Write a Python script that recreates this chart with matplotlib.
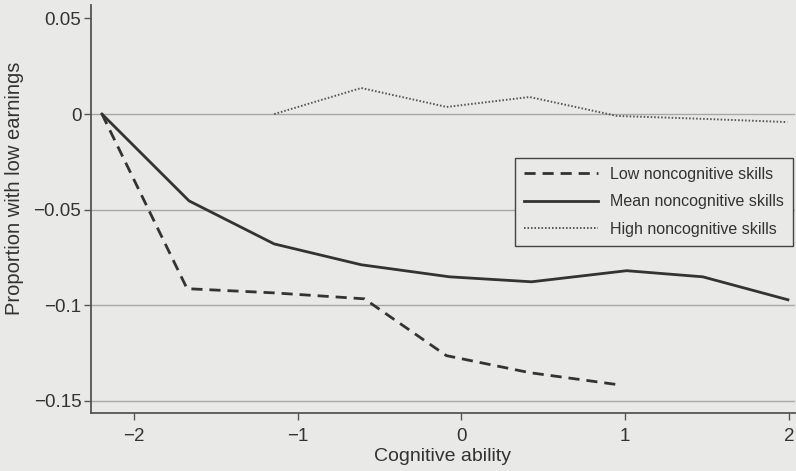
import numpy as np
import matplotlib.pyplot as plt

plt.rcParams['font.family'] = ['Liberation Sans', 'DejaVu Sans']

# Values
low_x = [-2.196, -1.676, -1.144, -0.593, -0.092, 0.416, 0.948]
low_y = [0.0, -0.0913, -0.0935, -0.0966, -0.1263, -0.1352, -0.1414]

mean_x = [-2.196, -1.664, -1.144, -0.612, -0.073, 0.428, 1.009, 1.474, 1.994]
mean_y = [0.0, -0.0454, -0.0679, -0.0788, -0.0851, -0.0877, -0.0819, -0.0851, -0.0971]

high_x = [-1.144, -0.612, -0.09, 0.416, 0.95, 1.47, 1.99]
high_y = [0.0, 0.0136, 0.0037, 0.0089, -0.001, -0.0025, -0.0042]

labels = ['Low noncognitive skills', 'Mean noncognitive skills', 'High noncognitive skills']
yticks = [0.05, 0, -0.05, -0.1, -0.15]
ytick_labels = ['0.05', '0', '\u22120.05', '\u22120.1', '\u22120.15']
xticks = [-2, -1, 0, 1, 2]
xtick_labels = ['\u22122', '\u22121', '0', '1', '2']

bg = '#e9e9e7'
ink = '#333333'

fig = plt.figure(figsize=(7.96, 4.71), dpi=100, facecolor=bg)
ax = fig.add_axes([0.1143, 0.1231, 0.8844, 0.8663], facecolor=bg)

# horizontal grid lines (no line at the top tick)
for yv in yticks[1:]:
    ax.axhline(yv, color='#a8a8a8', lw=1.0, zorder=1)

ax.plot(low_x, low_y, color=ink, lw=2.0, ls=(0, (4, 2.5)), label=labels[0], zorder=3)
ax.plot(mean_x, mean_y, color=ink, lw=2.0, ls='-', label=labels[1], zorder=3)
ax.plot(high_x, high_y, color='#555555', lw=1.4, ls=(0, (0.8, 1.0)), label=labels[2], zorder=3)

ax.set_xlim(-2.263, 2.037)
ax.set_ylim(-0.1563, 0.057)
ax.set_xticks(xticks)
ax.set_xticklabels(xtick_labels)
ax.set_yticks(yticks)
ax.set_yticklabels(ytick_labels)

for s in ['top', 'right']:
    ax.spines[s].set_visible(False)
for s in ['left', 'bottom']:
    ax.spines[s].set_color('#555555')
    ax.spines[s].set_linewidth(1.3)

ax.tick_params(axis='both', colors='#555555', labelcolor=ink, labelsize=13.5,
               length=5, width=1.0, direction='out')
ax.tick_params(axis='y', pad=2)
ax.tick_params(axis='x', pad=6)

ax.set_xlabel('Cognitive ability', fontsize=14, color=ink, labelpad=2)
ax.set_ylabel('Proportion with low earnings', fontsize=14.5, color=ink)
ax.yaxis.set_label_coords(-0.095, 0.55)

leg = ax.legend(loc='upper right', bbox_to_anchor=(0.9962, 0.6645),
                bbox_transform=fig.transFigure, fontsize=11.5,
                frameon=True, fancybox=False, framealpha=1,
                handlelength=4.6, handletextpad=0.8, borderpad=0.55,
                labelspacing=0.78, borderaxespad=0)
leg.get_frame().set_facecolor(bg)
leg.get_frame().set_edgecolor('#444444')
leg.get_frame().set_linewidth(1.0)
for t in leg.get_texts():
    t.set_color(ink)

fig.savefig('out.png', dpi=100, facecolor=bg)
